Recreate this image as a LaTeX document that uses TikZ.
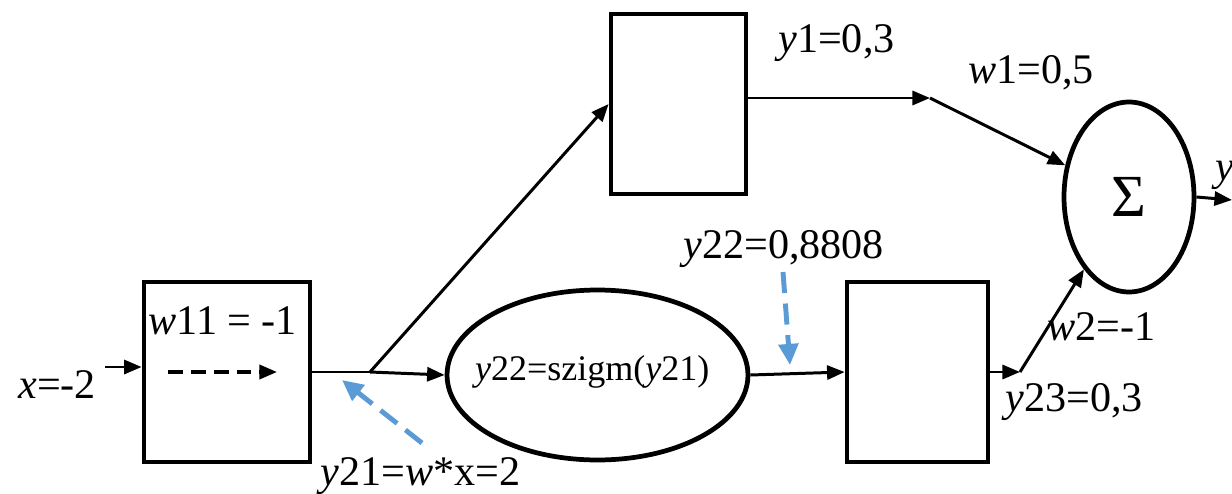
\documentclass[tikz,border=0pt]{standalone}
\usepackage{fontspec}
\setmainfont{Liberation Serif}
\usetikzlibrary{arrows.meta, shapes.geometric}

\newcommand{\vr}[1]{\textit{#1}}

\begin{document}
\begin{tikzpicture}[x=0.02cm, y=-0.02cm]
  \tikzset{
    blk/.style={draw, line width=2.7pt, minimum height=3.6cm, inner sep=0pt},
    oval/.style={draw, ellipse, line width=2.7pt, inner sep=0pt},
    conn/.style={line width=1.7pt, -{Triangle[length=10pt, width=8pt]}},
    hint/.style={line width=2.8pt, color=hintblue, dash pattern=on 12pt off 6pt,
      -{Triangle[length=12pt, width=11pt]}},
    txt/.style={anchor=base west, inner sep=0pt, font=\fontsize{24}{28}\selectfont},
  }
  \definecolor{hintblue}{RGB}{91,155,213}
  \useasboundingbox (0,0) rectangle (1232,494);

  % blocks
  \node[blk, minimum width=3.32cm] (b1) at (227,372) {};
  \node[blk, minimum width=2.7cm] (b2) at (678.5,104) {};
  \node[blk, minimum width=2.82cm] (b3) at (917.5,372) {};
  \node[oval, minimum width=6.02cm, minimum height=3.4cm,
    label={[font=\fontsize{20.5}{24}\selectfont, yshift=2pt, xshift=-3pt]center:\vr{y}22=szigm(\vr{y}21)}] (e1) at (597.5,375) {};
  \node[oval, minimum width=2.6cm, minimum height=3.8cm,
    font=\fontsize{34}{40}\selectfont] (sum) at (1129,197) {Σ};

  % helper points
  \coordinate (in) at (105,367);
  \coordinate (split) at (370,372);
  \coordinate (k1) at (930,98);
  \coordinate (k2) at (1020,372);
  \coordinate (out) at (1232,200);
  \coordinate (d1) at (168,372);
  \coordinate (d2) at (277,372);
  \coordinate (h1) at (422,443);
  \coordinate (h2) at (342,380);
  \coordinate (h3) at (783,272);
  \coordinate (h4) at (790,365);

  % connectors
  \draw[conn] (in) -- (in -| b1.west);
  \draw[conn, line width=1.9pt, dash pattern=on 8.5pt off 4.5pt] (d1) -- (d2);
  \draw[line width=1.7pt] (b1.east) -- (split);
  \draw[conn] (split) -- (e1.west);
  \draw[conn] (split) -- (b2.west);
  \draw[conn] (b2.east |- k1) -- (k1);
  \draw[conn] (k1) -- (sum);
  \draw[conn] (e1.east) -- (b3.west);
  \draw[conn] (b3.east) -- (k2);
  \draw[conn] (k2) -- (sum);
  \draw[conn] (sum.east) -- (out);

  % hints
  \draw[hint] (h1) -- (h2);
  \draw[hint] (h3) -- (h4);

  % labels
  \node[txt] (lx) at (18,398) {\vr{x}=-2};
  \node[txt] (lw11) at (148,334) {\vr{w}11 = -1};
  \node[txt] (ly21) at (320,485) {\vr{y}21=\vr{w}*x=2};
  \node[txt] (ly22) at (683,258) {\vr{y}22=0,8808};
  \node[txt] (ly1) at (778,52) {\vr{y}1=0,3};
  \node[txt] (lw1) at (968,83) {\vr{w}1=0,5};
  \node[txt] (lw2) at (1047,340) {\vr{w}2=-1};
  \node[txt] (ly23) at (1005,411) {\vr{y}23=0,3};
  \node[txt] (ly) at (1215,180) {\vr{y}};
\end{tikzpicture}
\end{document}
